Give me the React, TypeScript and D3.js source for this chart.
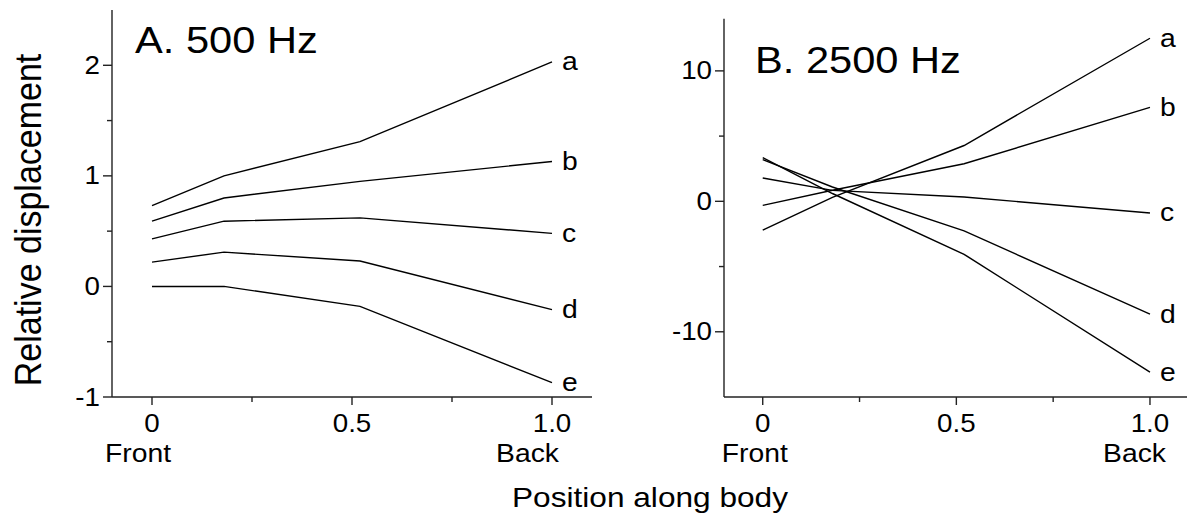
import React, { useEffect, useRef } from 'react';
import * as d3 from 'd3';

// positions along the body (0 = front, 1 = back)
const positions = [0, 0.18, 0.52, 1.0];
const seriesNames = ['a', 'b', 'c', 'd', 'e'];

// A. 500 Hz
const a500 = [0.73, 1.0, 1.31, 2.03];
const b500 = [0.59, 0.8, 0.95, 1.13];
const c500 = [0.43, 0.59, 0.62, 0.48];
const d500 = [0.22, 0.31, 0.23, -0.21];
const e500 = [0, 0, -0.18, -0.87];

// B. 2500 Hz
const a2500 = [-2.2, 0.3, 4.28, 12.5];
const b2500 = [-0.31, 0.85, 2.88, 7.2];
const c2500 = [1.79, 0.84, 0.33, -0.89];
const d2500 = [3.2, 1.1, -2.27, -8.65];
const e2500 = [3.35, 0.6, -4.06, -13.1];

const xMajorTicks = [0, 0.5, 1.0];
const xMinorTicks = [0.25, 0.75];
const xTickLabels = ['0', '0.5', '1.0'];

const yMajorA = [-1, 0, 1, 2];
const yMinorA = [-0.5, 0.5, 1.5];
const yMajorB = [-10, 0, 10];
const yMinorB = [-5, 5];

const FONT = "'Liberation Sans', Arial, Helvetica, sans-serif";
const SX = 1.11; // the type in the figure is a little wider than Arial

// text placed at (x, y) and widened horizontally around that point
function addText(g, x, y, str, size, anchor = 'start', baseline = 'auto') {
  return g.append('text')
    .attr('transform', `translate(${x},${y}) scale(${SX},1)`)
    .attr('text-anchor', anchor)
    .attr('dominant-baseline', baseline)
    .attr('font-size', size)
    .attr('font-family', FONT)
    .attr('fill', '#000')
    .text(str);
}

function drawPanel(svg, opts) {
  const { left, right, top, bottom, xDomain, yDomain, series, yMajor, yMinor, title, titlePos, frontDx, backDx } = opts;

  const x = d3.scaleLinear().domain(xDomain).range([left, right]);
  const y = d3.scaleLinear().domain(yDomain).range([bottom, top]);

  const g = svg.append('g');
  const axisColor = '#222';

  // axes lines
  g.append('line')
    .attr('x1', left).attr('x2', left)
    .attr('y1', y(yDomain[0])).attr('y2', y(yDomain[1]))
    .attr('stroke', axisColor).attr('stroke-width', 1.4);
  g.append('line')
    .attr('x1', x(xDomain[0])).attr('x2', x(xDomain[1]))
    .attr('y1', bottom).attr('y2', bottom)
    .attr('stroke', axisColor).attr('stroke-width', 1.4);

  // y ticks
  g.selectAll('.ymaj').data(yMajor).enter().append('line')
    .attr('x1', left - 9).attr('x2', left)
    .attr('y1', d => y(d)).attr('y2', d => y(d))
    .attr('stroke', axisColor).attr('stroke-width', 1.4);
  g.selectAll('.ymin').data(yMinor).enter().append('line')
    .attr('x1', left - 5).attr('x2', left)
    .attr('y1', d => y(d)).attr('y2', d => y(d))
    .attr('stroke', axisColor).attr('stroke-width', 1.4);
  yMajor.forEach(d => addText(g, left - 12, y(d), String(d), 25, 'end', 'central'));

  // x ticks
  g.selectAll('.xmaj').data(xMajorTicks).enter().append('line')
    .attr('x1', d => x(d)).attr('x2', d => x(d))
    .attr('y1', bottom).attr('y2', bottom + 8)
    .attr('stroke', axisColor).attr('stroke-width', 1.4);
  g.selectAll('.xmin').data(xMinorTicks).enter().append('line')
    .attr('x1', d => x(d)).attr('x2', d => x(d))
    .attr('y1', bottom).attr('y2', bottom + 5)
    .attr('stroke', axisColor).attr('stroke-width', 1.4);
  xMajorTicks.forEach((d, i) => addText(g, x(d), bottom + 35, xTickLabels[i], 25, 'middle'));

  addText(g, x(0) + frontDx, bottom + 65, 'Front', 25.5, 'start');
  addText(g, x(1) + backDx, bottom + 65, 'Back', 25.5, 'end');

  // lines
  const line = d3.line()
    .x((d, i) => x(positions[i]))
    .y(d => y(d));

  series.forEach((vals, k) => {
    g.append('path')
      .datum(vals)
      .attr('fill', 'none')
      .attr('stroke', '#000')
      .attr('stroke-width', 1.4)
      .attr('d', line);
    addText(g, x(positions[positions.length - 1]) + 10, y(vals[vals.length - 1]), seriesNames[k], 25.5, 'start', 'central');
  });

  addText(g, titlePos[0], titlePos[1], title, 37.5, 'start');
}

export default function App() {
  const ref = useRef(null);

  useEffect(() => {
    const svg = d3.select(ref.current);
    svg.selectAll('*').remove();

    drawPanel(svg, {
      left: 112, right: 592, top: 10, bottom: 397,
      xDomain: [-0.1, 1.1], yDomain: [-1, 2.5],
      series: [a500, b500, c500, d500, e500],
      yMajor: yMajorA, yMinor: yMinorA,
      title: 'A. 500 Hz', titlePos: [135, 53],
      frontDx: -47, backDx: 7,
    });

    drawPanel(svg, {
      left: 724, right: 1188.7, top: 18.7, bottom: 397,
      xDomain: [-0.1, 1.1], yDomain: [-15, 14],
      series: [a2500, b2500, c2500, d2500, e2500],
      yMajor: yMajorB, yMinor: yMinorB,
      title: 'B. 2500 Hz', titlePos: [755, 73],
      frontDx: -41, backDx: 16,
    });

    svg.append('text')
      .attr('transform', `translate(40.5, 220) scale(${SX},1) rotate(-90)`)
      .attr('text-anchor', 'middle')
      .attr('font-size', 34).attr('font-family', FONT)
      .text('Relative displacement');

    addText(svg, 650, 507, 'Position along body', 28.5, 'middle');
  }, []);

  return (
    <svg
      ref={ref}
      width={1187}
      height={525}
      style={{ position: 'absolute', left: 0, top: 0, background: '#fff' }}
    />
  );
}
